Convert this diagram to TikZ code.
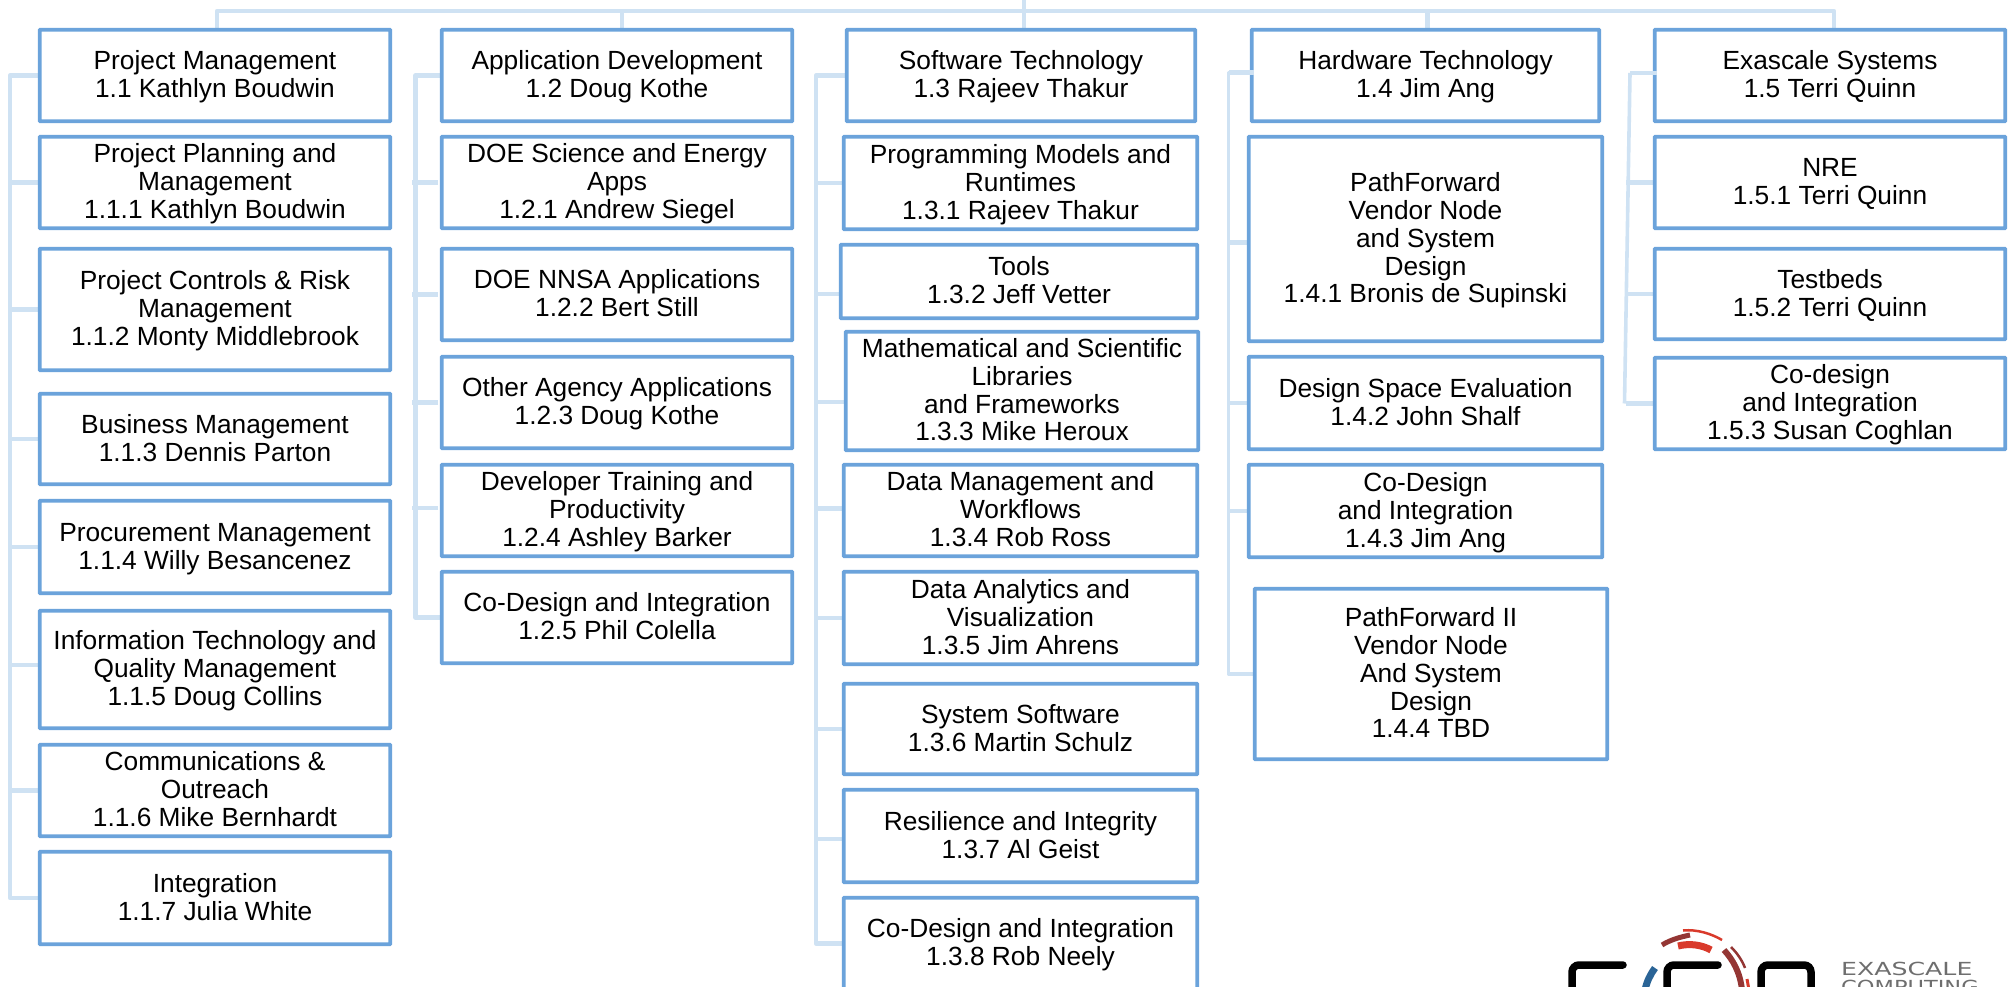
\documentclass[tikz,border=0pt]{standalone}
\usetikzlibrary{backgrounds}
\usepackage{fontspec}
\setmainfont{Liberation Sans}
\newfontfamily\logofont{DejaVu Sans}
\definecolor{boxblue}{HTML}{6BA3DB}
\definecolor{linkblue}{HTML}{CFE2F3}
\definecolor{logoblue}{HTML}{2A6496}
\definecolor{logodark}{HTML}{943634}
\definecolor{logored}{HTML}{D93A2B}
\definecolor{logogray}{HTML}{6E6E6E}
\tikzset{
 x=1pt,y=-1pt,
 wbs/.style={draw=boxblue,line width=3.8pt,rounded corners=0.6pt,fill=white,inner sep=0pt,font=\fontsize{26.3}{27.8}\selectfont,text=black},
 link/.style={draw=linkblue,line width=4.6pt,line join=round},
 thinlink/.style={draw=linkblue,line width=3.6pt,line join=round},
 logostroke/.style={draw=black,line width=7.5pt,line cap=round,rounded corners=7pt},
 logotext/.style={anchor=base west,inner sep=0pt,text=logogray,font=\logofont\fontsize{18}{18}\selectfont}
}
\newcommand{\bx}[6]{\node[wbs,minimum width=#4pt-#2pt-1.5pt,minimum height=#5pt-#3pt-1.5pt] (#1) at ({(#2+#4)/2},{(#3+#5)/2}) {\raisebox{-2.7pt}[\height][\depth]{\begin{tabular}{@{}c@{}}#6\end{tabular}}};}
\newcommand{\stub}[4][0]{\draw[link] ([yshift=#4pt]#2.west) -- ([yshift=#4pt]#2.west -| #3);}
\begin{document}
\begin{tikzpicture}
\useasboundingbox (0,0) rectangle (2013,987);
\coordinate (stem) at (1024,0);
\coordinate (bus) at (1024,11);
\coordinate (b1) at (10,0);
\coordinate (b2) at (415.5,0);
\coordinate (b2o) at (412,0);
\coordinate (b3) at (816,0);
\coordinate (b4) at (1228.5,0);
\coordinate (b5) at (1626,0);
\coordinate (b5a) at (1630,73);
\coordinate (b5b) at (1624.5,403.5);
% boxes, column 1
\bx{a0}{39}{29}{391}{122}{Project Management\\1.1 Kathlyn Boudwin}
\bx{a1}{39}{136}{391}{229}{Project Planning and\\Management\\1.1.1 Kathlyn Boudwin}
\bx{a2}{39}{248}{391}{371}{Project Controls \& Risk\\Management\\1.1.2 Monty Middlebrook}
\bx{a3}{39}{393}{391}{485}{Business Management\\1.1.3 Dennis Parton}
\bx{a4}{39}{500}{391}{594}{Procurement Management\\1.1.4 Willy Besancenez}
\bx{a5}{39}{610}{391}{729}{Information Technology and\\Quality Management\\1.1.5 Doug Collins}
\bx{a6}{39}{744}{391}{837}{Communications \&\\Outreach\\1.1.6 Mike Bernhardt}
\bx{a7}{39}{851}{391}{945}{Integration\\1.1.7 Julia White}
% column 2
\bx{c0}{441}{29}{793}{122}{Application Development\\1.2 Doug Kothe}
\bx{c1}{441}{136}{793}{229}{DOE Science and Energy\\Apps\\1.2.1 Andrew Siegel}
\bx{c2}{441}{248}{793}{341}{DOE NNSA Applications\\1.2.2 Bert Still}
\bx{c3}{441}{356}{793}{449}{Other Agency Applications\\1.2.3 Doug Kothe}
\bx{c4}{441}{464}{793}{557}{Developer Training and\\Productivity\\1.2.4 Ashley Barker}
\bx{c5}{441}{571}{793}{664}{Co-Design and Integration\\1.2.5 Phil Colella}
% column 3
\bx{d0}{846}{29}{1196}{122}{Software Technology\\1.3 Rajeev Thakur}
\bx{d1}{843}{136}{1198}{230}{Programming Models and\\Runtimes\\1.3.1 Rajeev Thakur}
\bx{d2}{840}{244}{1198}{319}{Tools\\1.3.2 Jeff Vetter}
\bx{d3}{845}{331}{1199}{451}{Mathematical and Scientific\\Libraries\\and Frameworks\\1.3.3 Mike Heroux}
\bx{d4}{843}{464}{1198}{557}{Data Management and\\Workflows\\1.3.4 Rob Ross}
\bx{d5}{843}{571}{1198}{665}{Data Analytics and\\Visualization\\1.3.5 Jim Ahrens}
\bx{d6}{843}{683}{1198}{775}{System Software\\1.3.6 Martin Schulz}
\bx{d7}{843}{789}{1198}{883}{Resilience and Integrity\\1.3.7 Al Geist}
\bx{d8}{843}{897}{1198}{990}{Co-Design and Integration\\1.3.8 Rob Neely}
% column 4
\bx{e0}{1251}{29}{1600}{122}{Hardware Technology\\1.4 Jim Ang}
\bx{e1}{1248}{136}{1603}{342}{PathForward\\Vendor Node\\and System\\Design\\1.4.1 Bronis de Supinski}
\bx{e2}{1248}{356}{1603}{450}{Design Space Evaluation\\1.4.2 John Shalf}
\bx{e3}{1248}{464}{1603}{558}{Co-Design\\and Integration\\1.4.3 Jim Ang}
\bx{e4}{1254}{588}{1608}{760}{PathForward II\\Vendor Node\\And System\\Design\\1.4.4 TBD}
% column 5
\bx{f0}{1654}{29}{2006}{122}{Exascale Systems\\1.5 Terri Quinn}
\bx{f1}{1654}{136}{2006}{229}{NRE\\1.5.1 Terri Quinn}
\bx{f2}{1654}{248}{2006}{340}{Testbeds\\1.5.2 Terri Quinn}
\bx{f3}{1654}{357}{2006}{450}{Co-design\\and Integration\\1.5.3 Susan Coghlan}
% connectors
\begin{scope}[on background layer]
\draw[link] (stem) -- (bus);
\draw[link] ([xshift=2pt]a0.north) |- (bus) -| ([xshift=4pt]f0.north);
\draw[link] ([xshift=5pt]c0.north) -- ([xshift=5pt]c0.north |- bus);
\draw[link] ([xshift=2pt]e0.north) -- ([xshift=2pt]e0.north |- bus);
\draw[link] (bus) -- (d0.north -| bus);
% column 1
\draw[link] (a0.west) -| (a7.west -| b1) -- (a7.west);
\stub{a1}{b1}{0}\stub{a2}{b1}{0}\stub{a3}{b1}{0}\stub{a4}{b1}{0}\stub{a5}{b1}{4.5}\stub{a6}{b1}{0}
% column 2
\draw[link] (c0.west) -| (c5.west -| b2) -- (c5.west);
\foreach \n/\s in {c1/0,c2/0,c3/0,c4/2.5} \draw[link] ([xshift=-2pt,yshift=\s pt]\n.west) -- ([yshift=\s pt]\n.west -| b2o);
% column 3
\draw[link] (d0.west) -| (d8.west -| b3) -- (d8.west);
\stub{d1}{b3}{0}\stub{d2}{b3}{-12.5}\stub{d3}{b3}{-11}\stub{d4}{b3}{2}\stub{d5}{b3}{0}\stub{d6}{b3}{0}\stub{d7}{b3}{-3}
% column 4
\draw[thinlink] ([yshift=3pt]e0.west) -| (e4.west -| b4) -- (e4.west);
\stub{e1}{b4}{-3.5}\stub{e2}{b4}{0}\stub{e3}{b4}{0}\stub{e4}{b4}{0}
% column 5
\draw[thinlink] (b5a) -- (b5b);
\stub{f1}{b5}{0}\stub{f2}{b5}{0}\stub{f3}{b5}{0}
\end{scope}
% stubs laid over the box borders
\draw[link] ([xshift=4pt,yshift=3pt]e0.west) -- ([yshift=3pt]e0.west -| b4);
\draw[link] ([xshift=4pt,yshift=2.5pt]f0.west) -- (b5a);
% logo
\draw[logostroke] (1623,965) -- (1572,965) -- (1572,1010);
\draw[logostroke] (1718,965) -- (1667,965) -- (1667,1010);
\draw[logostroke] (1761,1010) -- (1761,965) -- (1811,965) -- (1811,1010);
\draw[logoblue,line width=7pt] (1655,968) .. controls (1650,975) and (1647,981) .. (1645,990);
\draw[logodark,line width=5pt] (1662,945) .. controls (1670,940) and (1680,937) .. (1690,935);
\draw[logored,line width=2.5pt] (1683,930.5) .. controls (1697,929) and (1712,934) .. (1722,940);
\draw[logored,line width=7pt] (1678,946) .. controls (1690,943) and (1702,945) .. (1711,950);
\draw[logodark,line width=6pt] (1724,950) .. controls (1733,960) and (1740,972) .. (1742,990);
\draw[logodark,line width=2.5pt] (1731,947) .. controls (1737,953) and (1742,960) .. (1745,968);
\draw[logored,line width=3pt] (1747,979) -- (1749,990);
\node[logotext] (lg1) at (1841,975) {\scalebox{1.4}[1]{EXASCALE}};
\node[logotext] (lg2) at (1841,993) {\scalebox{1.25}[1]{COMPUTING}};
\end{tikzpicture}
\end{document}
